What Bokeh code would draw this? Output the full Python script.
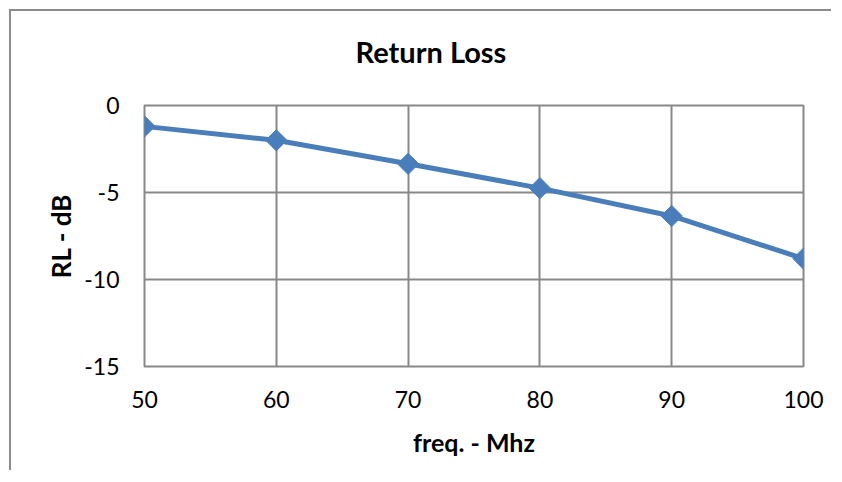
import math
from bokeh.plotting import figure
from bokeh.models import ColumnDataSource, FixedTicker, Range1d, PrintfTickFormatter
from bokeh.embed import file_html
from bokeh.resources import INLINE

title_text = "Return Loss"
freq = [50, 60, 70, 80, 90, 100]
rl_db = [-1.2, -2.0, -3.35, -4.75, -6.35, -8.8]
x_ticks = [50, 60, 70, 80, 90, 100]
y_ticks = [0, -5, -10, -15]

FONT = "Lato"
GRID = "#888888"
BLUE = "#4A7EBB"

src = ColumnDataSource(dict(x=freq, y=rl_db))

p = figure(width=822, height=461, output_backend="svg", toolbar_location=None,
           x_range=Range1d(50, 100), y_range=Range1d(-15, 0),
           min_border_left=133, min_border_right=30, min_border_top=94, min_border_bottom=106)
p.styles = {"margin-top": "9px", "margin-left": "9px",
            "border-left": "2px solid #8c8c8c", "border-top": "2px solid #8c8c8c"}

# a trailing blank line lifts the title away from the plot area
p.title.text = title_text + "\n "
p.title.text_font = FONT
p.title.text_font_size = "29px"
p.title.text_font_style = "bold"
p.title.text_color = "black"
p.title.align = "left"
p.title.offset = 211
p.title.vertical_align = "top"
p.title.standoff = 0

p.outline_line_color = GRID
p.outline_line_width = 2
p.background_fill_color = "white"
p.border_fill_color = "white"

for g in (p.xgrid, p.ygrid):
    g.grid_line_color = GRID
    g.grid_line_width = 2
p.xgrid.ticker = FixedTicker(ticks=x_ticks)
p.ygrid.ticker = FixedTicker(ticks=y_ticks)

p.xaxis.ticker = FixedTicker(ticks=x_ticks)
p.yaxis.ticker = FixedTicker(ticks=y_ticks)
for ax in (p.xaxis, p.yaxis):
    ax.formatter = PrintfTickFormatter(format="%d")
    ax.axis_line_color = None
    ax.major_tick_line_color = None
    ax.minor_tick_line_color = None
    ax.major_tick_out = 0
    ax.major_tick_in = 0
    ax.major_label_text_font = FONT
    ax.major_label_text_font_size = "23px"
    ax.major_label_text_color = "black"
    ax.axis_label_text_font = FONT
    ax.axis_label_text_font_style = "bold"
    ax.axis_label_text_color = "black"

p.xaxis.axis_label = "freq. - Mhz"
p.xaxis.axis_label_text_font_size = "25px"
p.xaxis.major_label_standoff = 24
p.xaxis.axis_label_standoff = 16

p.yaxis.axis_label = "RL - dB"
p.yaxis.axis_label_text_font_size = "26px"
p.yaxis.major_label_standoff = 25
p.yaxis.axis_label_standoff = 4

p.line("x", "y", source=src, line_color=BLUE, line_width=5)
p.scatter("x", "y", source=src, marker="square", angle=math.pi / 4, size=15,
          fill_color=BLUE, line_color=BLUE)

open("out.html", "w").write(file_html(p, INLINE))
